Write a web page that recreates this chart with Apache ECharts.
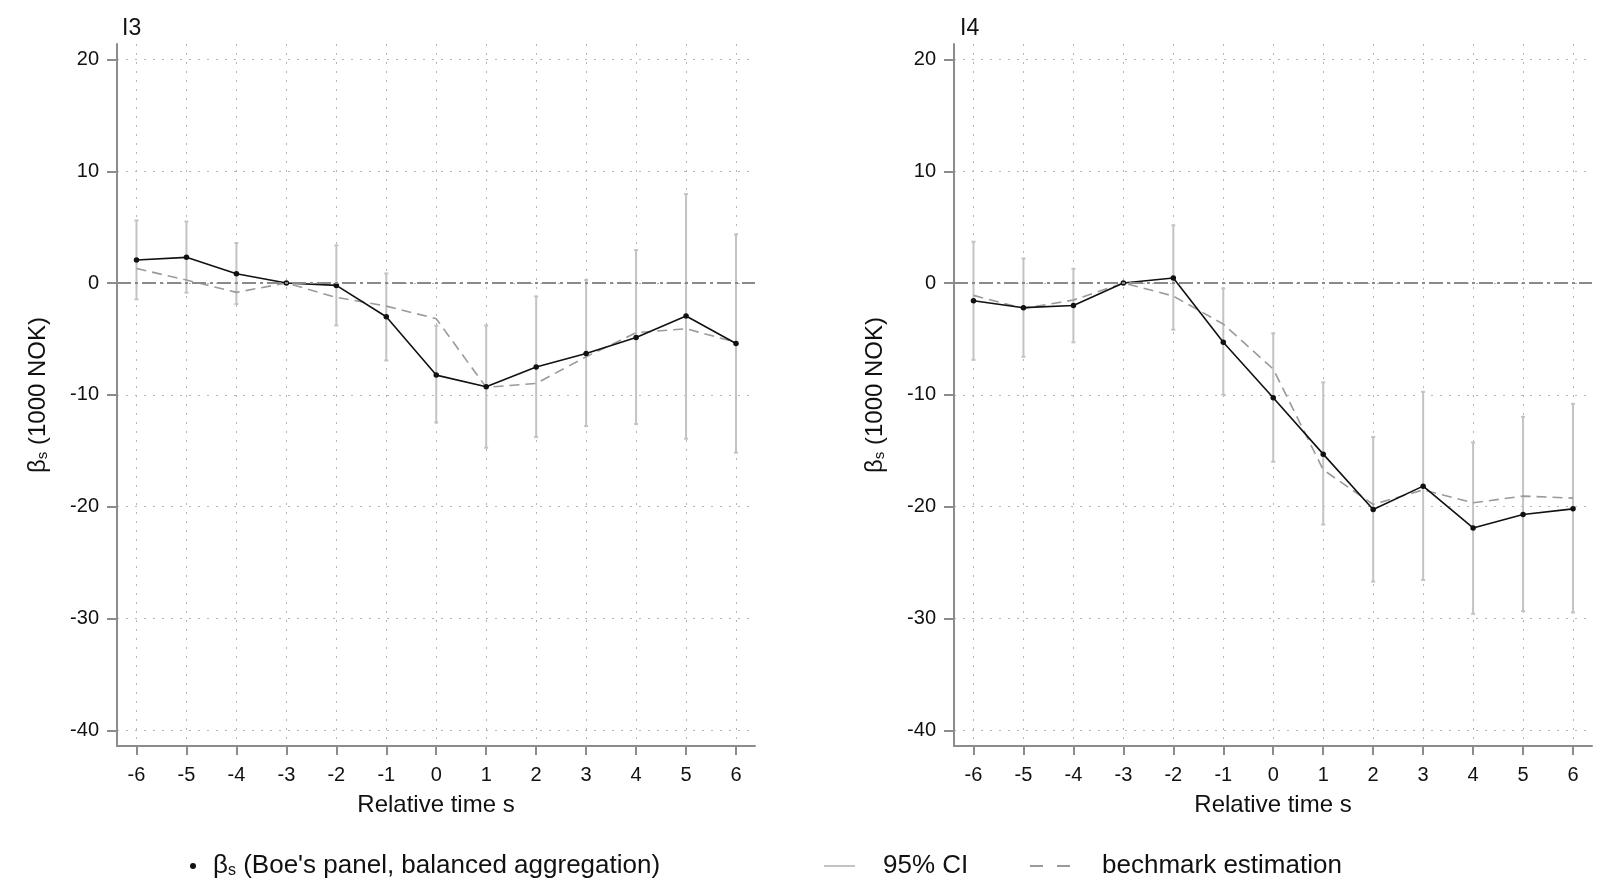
<!DOCTYPE html>
<html>
<head>
<meta charset="utf-8">
<script src="https://cdn.jsdelivr.net/npm/echarts@6/dist/echarts.min.js"></script>
<style>
html,body{margin:0;padding:0;background:#fff;}
#main{width:1615px;height:889px;}
</style>
</head>
<body>
<div id="main"></div>
<script>
// ---- data ----
const relTime = [-6,-5,-4,-3,-2,-1,0,1,2,3,4,5,6];
const yTicks = [-40,-30,-20,-10,0,10,20];
const panelTitles = ['I3','I4'];

const betaI3  = [2.06, 2.30, 0.83, 0, -0.21, -3.01, -8.23, -9.27, -7.51, -6.29, -4.86, -2.95, -5.40];
const ciLowI3 = [-1.46, -0.86, -1.88, null, -3.79, -6.92, -12.46, -14.73, -13.77, -12.79, -12.61, -13.92, -15.17];
const ciHighI3= [5.60, 5.50, 3.58, null, 3.37, 0.86, -3.82, -3.79, -1.19, 0.27, 2.95, 7.96, 4.35];
const benchI3 = [1.30, 0.27, -0.83, 0, -1.28, -2.06, -3.19, -9.33, -8.97, -6.59, -4.44, -4.08, -5.30];

const betaI4  = [-1.58, -2.20, -2.00, 0, 0.45, -5.30, -10.26, -15.30, -20.25, -18.16, -21.90, -20.70, -20.19];
const ciLowI4 = [-6.86, -6.59, -5.30, null, -4.17, -9.98, -15.98, -21.60, -26.70, -26.56, -29.58, -29.34, -29.46];
const ciHighI4= [3.70, 2.20, 1.28, null, 5.16, -0.48, -4.50, -8.88, -13.77, -9.72, -14.25, -11.96, -10.80];
const benchI4 = [-1.10, -2.27, -1.52, 0, -1.16, -3.67, -7.69, -16.70, -19.80, -18.50, -19.65, -19.05, -19.23];

const NAME_BETA = 'beta';
const NAME_CI = '95% CI';
const NAME_BENCH = 'bechmark estimation';

// ---- helpers ----
const FONT = '"Liberation Sans", Arial, sans-serif';
const AXIS_COLOR = '#8c8c8c';
const TXT = '#111';

function pairs(vals){ return relTime.map((s,i)=>[s, vals[i]]); }
function ciData(lo, hi){
  const out = [];
  relTime.forEach((s,i)=>{ if(lo[i]!==null && hi[i]!==null) out.push([s, lo[i], hi[i]]); });
  return out;
}
function ciRender(params, api){
  const x = api.value(0), lo = api.value(1), hi = api.value(2);
  const pHi = api.coord([x, hi]), pLo = api.coord([x, lo]);
  const c = 2;
  const st = {stroke:'#c3c3c3', lineWidth:2};
  return {type:'group', children:[
    {type:'line', shape:{x1:pHi[0], y1:pHi[1], x2:pLo[0], y2:pLo[1]}, style:st},
    {type:'line', shape:{x1:pHi[0]-c, y1:pHi[1], x2:pHi[0]+c, y2:pHi[1]}, style:st},
    {type:'line', shape:{x1:pLo[0]-c, y1:pLo[1], x2:pLo[0]+c, y2:pLo[1]}, style:st}
  ]};
}

const grids = [
  {left:117, top:44, width:638, height:702},
  {left:954, top:44, width:638, height:702}
];

function xAxisFor(i){
  return {
    type:'value', gridIndex:i, min:-6.39, max:6.38,
    name:'Relative time s', nameLocation:'middle', nameGap:47,
    nameTextStyle:{fontSize:24, color:TXT, fontFamily:FONT},
    axisLine:{show:true, onZero:false, lineStyle:{color:AXIS_COLOR, width:2}},
    axisTick:{show:true, length:9, customValues:relTime, lineStyle:{color:AXIS_COLOR, width:2}},
    axisLabel:{show:true, customValues:relTime, margin:19, fontSize:20, color:TXT, fontFamily:FONT},
    splitLine:{show:true, lineStyle:{color:'#b5b5b5', width:1, type:[2,7]}}
  };
}
function yAxisFor(i){
  return {
    type:'value', gridIndex:i, min:-41.4, max:21.38,
    name:'{b|β}{s|s} (1000 NOK)', nameLocation:'middle', nameGap:67,
    nameTextStyle:{fontSize:24, color:TXT, fontFamily:FONT,
      rich:{b:{fontSize:24, fontFamily:FONT, color:TXT}, s:{fontSize:15, fontFamily:FONT, color:TXT, padding:[9,0,0,0]}}},
    axisLine:{show:true, onZero:false, lineStyle:{color:AXIS_COLOR, width:2}},
    axisTick:{show:true, length:10, customValues:yTicks, lineStyle:{color:AXIS_COLOR, width:2}},
    axisLabel:{show:true, customValues:yTicks, margin:18, fontSize:20, color:TXT, fontFamily:FONT},
    splitLine:{show:true, lineStyle:{color:'#b5b5b5', width:1, type:[2,7]}}
  };
}

function panelSeries(i, beta, lo, hi, bench){
  return [
    {
      name:NAME_CI, type:'custom', xAxisIndex:i, yAxisIndex:i,
      renderItem:ciRender, data:ciData(lo,hi), encode:{x:0, y:[1,2]},
      itemStyle:{color:'#c3c3c3'}, z:2, silent:true,
      markLine:{
        silent:true, symbol:['none','none'], label:{show:false},
        lineStyle:{color:'#8a8a8a', width:2, type:[14,4,3,4]},
        data:[[{coord:[-6.39,0]},{coord:[6.38,0]}]]
      }
    },
    {
      name:NAME_BENCH, type:'line', xAxisIndex:i, yAxisIndex:i,
      data:pairs(bench), symbol:'none', showSymbol:false,
      lineStyle:{color:'#9a9a9a', width:1.6, type:[10,6]},
      itemStyle:{color:'#9a9a9a'}, z:3, silent:true
    },
    {
      name:NAME_BETA, type:'line', xAxisIndex:i, yAxisIndex:i,
      data:pairs(beta), symbol:'circle', symbolSize:5.5,
      lineStyle:{color:'#111', width:1.6},
      itemStyle:{color:'#111'}, z:4, silent:true
    }
  ];
}

const chart = echarts.init(document.getElementById('main'), null, {renderer:'canvas'});
chart.setOption({
  animation:false,
  backgroundColor:'#fff',
  title:[
    {text:panelTitles[0], left:122, top:17, padding:0, textStyle:{fontSize:23, fontWeight:'normal', color:TXT, fontFamily:FONT}},
    {text:panelTitles[1], left:960, top:17, padding:0, textStyle:{fontSize:23, fontWeight:'normal', color:TXT, fontFamily:FONT}}
  ],
  grid:grids,
  xAxis:[xAxisFor(0), xAxisFor(1)],
  yAxis:[yAxisFor(0), yAxisFor(1)],
  legend:[
    {
      left:190, top:853, padding:0, itemWidth:6, itemHeight:6,
      data:[{name:NAME_BETA, icon:'circle', itemStyle:{color:'#111'}}],
      formatter:function(){ return "{g|}{b|β}{s|s} (Boe's panel, balanced aggregation)"; },
      textStyle:{fontSize:26, color:TXT, fontFamily:FONT,
        rich:{g:{width:12}, b:{fontSize:26, fontFamily:FONT, color:TXT}, s:{fontSize:16, fontFamily:FONT, color:TXT, padding:[10,0,0,0]}}},
      selectedMode:false
    },
    {
      left:824, top:853, padding:0, itemWidth:31, itemHeight:2,
      data:[{name:NAME_CI, icon:'path://M0,0 L31,0 L31,2 L0,2 Z', itemStyle:{color:'#c3c3c3'}}],
      formatter:function(n){ return '{g|}' + n; },
      textStyle:{fontSize:26, color:TXT, fontFamily:FONT, rich:{g:{width:23}}},
      selectedMode:false
    },
    {
      left:1030, top:853, padding:0, itemWidth:40, itemHeight:2,
      data:[{name:NAME_BENCH, icon:'path://M0,0 L13,0 L13,2 L0,2 Z M27,0 L40,0 L40,2 L27,2 Z', itemStyle:{color:'#9a9a9a'}}],
      formatter:function(n){ return '{g|}' + n; },
      textStyle:{fontSize:26, color:TXT, fontFamily:FONT, rich:{g:{width:27}}},
      selectedMode:false
    }
  ],
  series:[].concat(
    panelSeries(0, betaI3, ciLowI3, ciHighI3, benchI3),
    panelSeries(1, betaI4, ciLowI4, ciHighI4, benchI4)
  )
});
</script>
</body>
</html>
